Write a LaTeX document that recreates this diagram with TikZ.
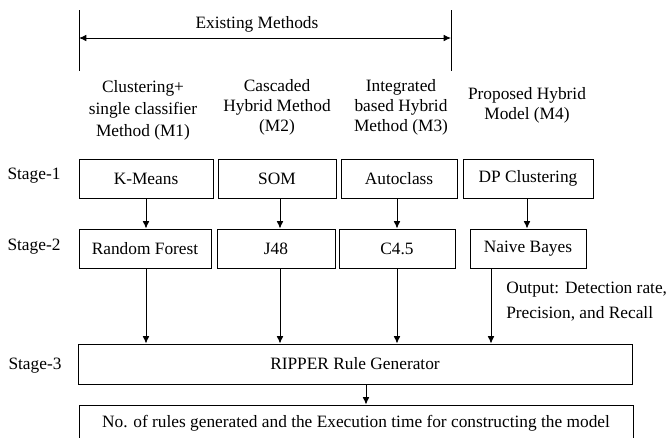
\documentclass[tikz,border=0pt]{standalone}
\usepackage{fontspec}
\setmainfont{Liberation Serif}
\usetikzlibrary{arrows.meta,calc}
\begin{document}
\begin{tikzpicture}[x=0.75pt,y=-0.75pt,
  every node/.style={font=\fontsize{13}{15}\selectfont, inner sep=0pt},
  box/.style={draw, line width=0.7pt, minimum height=29.25pt},
  arr/.style={line width=0.7pt, -{Latex[length=5.5pt,width=5pt]}},
  plain/.style={line width=0.7pt}]
\useasboundingbox (0,0) rectangle (667,437);
% top bracket
\coordinate (LT) at (79,10); \coordinate (LB) at (79,71);
\coordinate (RT) at (451,10); \coordinate (RB) at (451,71);
\draw[plain] (LT) -- (LB);
\draw[plain] (RT) -- (RB);
\coordinate (AL) at (79,38); \coordinate (AR) at (451,38);
\draw[line width=0.7pt, {Latex[length=5.5pt,width=5pt]}-{Latex[length=5.5pt,width=5pt]}] (AL) -- (AR);
\node (ex) at (257,24) {Existing Methods};
% method labels
\node[align=center, font=\fontsize{13}{16.5}\selectfont] (m1) at (143,110) {Clustering+\\single classifier\\Method (M1)};
\node[align=center] (m2) at (277,107) {Cascaded\\Hybrid Method\\(M2)};
\node[align=center] (m3) at (401,107) {Integrated\\based Hybrid\\Method (M3)};
\node[align=center] (m4) at (527,105) {Proposed Hybrid\\Model (M4)};
% stage labels
\node (st1) at (34,176) {Stage-1};
\node (st2) at (34,247) {Stage-2};
\node (st3) at (35,366) {Stage-3};
% stage 1
\node[box, minimum width=100.5pt] (a1) at (146,178.5) {K-Means};
\node[box, minimum width=88.5pt] (b1) at (277,178.5) {SOM};
\node[box, minimum width=87pt] (c1) at (399,178.5) {Autoclass};
\node[box, minimum width=97.5pt] (d1) at (528,178.5) {DP Clustering};
% stage 2
\node[box, minimum width=99pt] (a2) at (145,248.5) {Random Forest};
\node[box, minimum width=88.5pt] (b2) at (276,248.5) {J48};
\node[box, minimum width=87pt] (c2) at (397,248.5) {C4.5};
\node[box, minimum width=87pt] (d2) at (528,248.5) {Naive Bayes};
% stage 3
\node[box, minimum width=415.5pt, minimum height=30pt] (r) at (355,364) {RIPPER Rule Generator};
\node[box, minimum width=415.5pt, minimum height=27pt] (o) at (356,423) {No. of rules generated and the Execution time for constructing the model};
% output text
\node[align=left, anchor=west, font=\fontsize{13}{18.75}\selectfont] (out) at (506,301.5) {Output: Detection rate,\\Precision, and Recall};
% arrows stage1 -> stage2
\draw[arr] (a1.south) -- (a1.south |- a2.north);
\draw[arr] ([xshift=2.25pt]b1.south) -- ([xshift=2.25pt]b1.south |- b2.north);
\draw[arr] ([xshift=-1.5pt]c1.south) -- ([xshift=-1.5pt]c1.south |- c2.north);
\draw[arr] ([xshift=-0.75pt]d1.south) -- ([xshift=-0.75pt]d1.south |- d2.north);
% arrows stage2 -> stage3
\draw[arr] ([xshift=0.75pt]a2.south) -- ([xshift=0.75pt]a2.south |- r.north);
\draw[arr] ([xshift=3pt]b2.south) -- ([xshift=3pt]b2.south |- r.north);
\draw[arr] (c2.south) -- (c2.south |- r.north);
\draw[arr] ([xshift=-27.75pt]d2.south) -- ([xshift=-27.75pt]d2.south |- r.north);
% arrow stage3 -> output
\draw[arr] ([xshift=8.25pt]r.south) -- ([xshift=8.25pt]r.south |- o.north);
\end{tikzpicture}
\end{document}
